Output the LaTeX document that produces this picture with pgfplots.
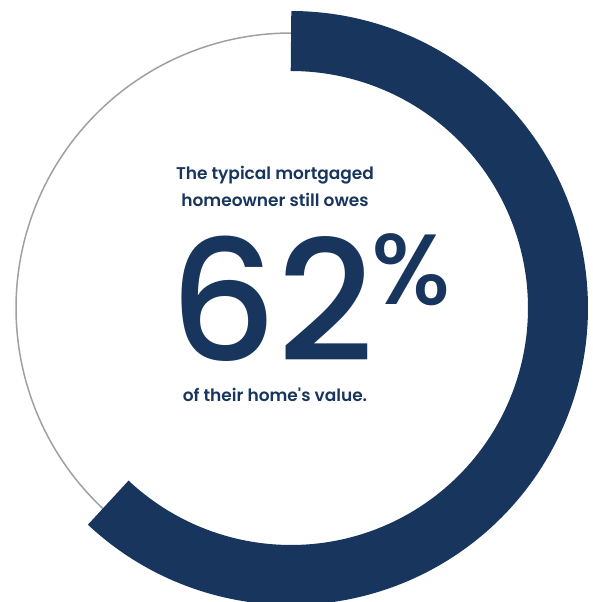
\documentclass[border=0pt]{standalone}
\usepackage{pgfplots}
\pgfplotsset{compat=1.18}
\usepackage{fontspec}
\setmainfont{Poppins}
\newfontfamily\popm{Poppins Medium}
\newfontfamily\pops{Poppins SemiBold}
\definecolor{navy}{RGB}{24,53,94}
\definecolor{ringgray}{RGB}{160,160,160}
\begin{document}
\begin{tikzpicture}
\def\owed{62}
\begin{axis}[
  width=592pt, height=602pt, scale only axis,
  xmin=0, xmax=592, ymin=0, ymax=602, y dir=reverse,
  hide axis, clip=true,
]
% thin background ring
\addplot[domain=0:360, samples=240, ringgray, line width=1.5pt]
  ({291+275*cos(x)},{308-275*sin(x)});
% share owed: arc clockwise from 12 o'clock
\addplot[domain={90-3.6*\owed}:90, samples=200, navy, line width=60pt]
  ({291+267*cos(x)},{308-267*sin(x)});
\node[text=navy, align=center, font=\pops\fontsize{17}{27}\selectfont] at (axis cs:275,186)
  {The typical mortgaged\\homeowner still owes};
\node[text=navy, font=\popm\fontsize{168}{168}\selectfont, inner sep=0pt] at (axis cs:272,299) {\owed};
\node[text=navy, font=\popm\fontsize{100}{100}\selectfont, inner sep=0pt] at (axis cs:411,270) {\%};
\node[text=navy, font=\pops\fontsize{17}{20}\selectfont] at (axis cs:275,395) {of their home's value.};
\end{axis}
\pgfresetboundingbox
\path (0,0) rectangle (592pt,602pt);
\end{tikzpicture}
\end{document}
